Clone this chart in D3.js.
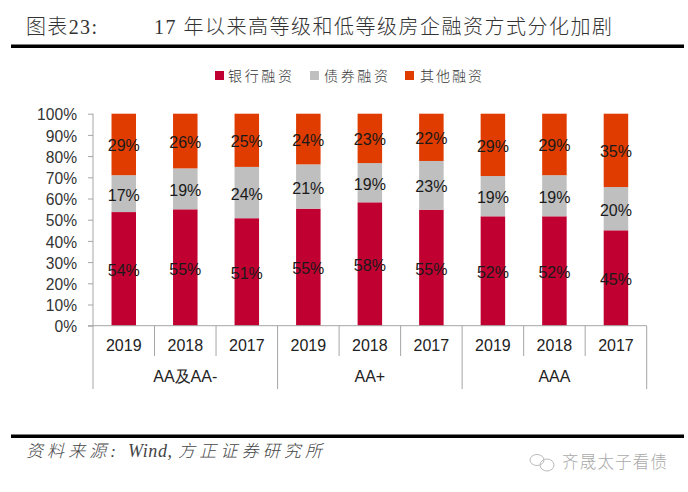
<!DOCTYPE html>
<html><head><meta charset="utf-8">
<script src="https://cdn.jsdelivr.net/npm/d3@7/dist/d3.min.js"></script>
<style>html,body{margin:0;padding:0;background:#fff}svg{display:block}</style>
</head><body><svg id="c" width="688" height="492"></svg>
<script>
const years = ["2019","2018","2017","2019","2018","2017","2019","2018","2017"];
const groups = ["AA及AA-","AA+","AAA"];
const seriesNames = ["银行融资","债券融资","其他融资"];
const bank = [53.6,54.9,50.7,55.2,58.2,54.7,51.6,51.6,45.0];
const bond = [17.4,19.3,24.2,20.9,18.5,23.0,19.0,19.4,20.4];
const other = [29.0,25.8,25.1,23.9,23.3,22.3,29.4,29.0,34.6];
const colors = ["#C00030","#BFBFBF","#E03C00"];
const yTicks = [0,10,20,30,40,50,60,70,80,90,100];

const svg = d3.select("#c");
const latin = "'Liberation Sans',Arial,sans-serif";
const mixed = "'Liberation Serif','Noto Sans CJK SC',serif";
const cjk = "'Noto Sans CJK SC',sans-serif";
const x = d3.scaleBand().domain(d3.range(9)).range([93,646.7]);
const y = d3.scaleLinear().domain([0,100]).range([325.7,113.7]);
const barW = 24.5;

function label(px,py,size,len,txt,opts={}){
  return svg.append("text").attr("x",px).attr("y",py).attr("font-family",opts.font||mixed)
    .attr("font-weight",opts.weight||300).attr("font-style",opts.style||"normal")
    .attr("font-size",size).attr("fill",opts.fill||"#333")
    .attr("textLength",len).text(txt);
}

// header / footer
label(26,34,20,71,"图表23:");
label(154,34,20,458,"17 年以来高等级和低等级房企融资方式分化加剧");
svg.append("rect").attr("x",11).attr("y",44.5).attr("width",673).attr("height",3.5).attr("fill","#000");
svg.append("rect").attr("x",11).attr("y",434.5).attr("width",673).attr("height",3.5).attr("fill","#000");
label(26,457,17,90,"资料来源:",{style:"italic",fill:"#444"});
label(128,457,18,44,"Wind,",{style:"italic",fill:"#444",weight:400});
label(178,457,17,144,"方正证券研究所",{style:"italic",fill:"#444"});
label(562,468,16.5,105,"齐晟太子看债",{font:cjk,fill:"#aaa"});
const wx = svg.append("g").attr("fill","none").attr("stroke","#bbb").attr("stroke-width",1);
wx.append("ellipse").attr("cx",537).attr("cy",460).attr("rx",7).attr("ry",5.5);
wx.append("ellipse").attr("cx",547).attr("cy",465).attr("rx",7).attr("ry",6);

// legend
const legendX = [215,310,405];
const legendTextX = [228,324,420];
const legendLen = [64,64,62];
seriesNames.forEach((n,i)=>{
  svg.append("rect").attr("x",legendX[i]).attr("y",71).attr("width",9).attr("height",9).attr("fill",colors[i]);
  label(legendTextX[i],81,14,legendLen[i],n,{font:cjk});
});

// stacked bars
const rows = years.map((_,i)=>({i,bank:bank[i],bond:bond[i],other:other[i]}));
const stack = d3.stack().keys(["bank","bond","other"])(rows);
stack.forEach((layer,k)=>{
  svg.append("g").selectAll("rect").data(layer).join("rect")
    .attr("x",d=>x(d.data.i)+x.bandwidth()/2-barW/2).attr("width",barW)
    .attr("y",d=>y(d[1])).attr("height",d=>y(d[0])-y(d[1])).attr("fill",colors[k]);
});
stack.forEach(layer=>{
  svg.append("g").selectAll("text").data(layer).join("text")
    .attr("x",d=>x(d.data.i)+x.bandwidth()/2).attr("y",d=>y((d[0]+d[1])/2)+7)
    .attr("text-anchor","middle").attr("font-family",latin).attr("font-size",16).attr("fill","#1a1a1a")
    .text(d=>Math.round(d[1]-d[0])+"%");
});

// y axis
const ya = svg.append("g").attr("transform","translate(93,0)")
  .call(d3.axisLeft(y).tickValues(yTicks).tickSize(5).tickPadding(11).tickFormat(d=>d+"%"));
ya.selectAll("path,line").attr("stroke","#a6a6a6");
ya.select("path").attr("d","M0,113.7V325.7");
ya.selectAll("text").attr("font-family",latin).attr("font-size",15.6).attr("fill","#333").attr("dy","0.4em");

// x axis with two-level categories
const xa = svg.append("g").attr("stroke","#a6a6a6").attr("fill","none");
xa.append("line").attr("x1",88).attr("x2",646.7).attr("y1",325.7).attr("y2",325.7);
d3.range(10).forEach(i=>{
  const px = i<9 ? x(i) : x(8)+x.bandwidth();
  xa.append("line").attr("x1",px).attr("x2",px).attr("y1",325.7).attr("y2",i%3===0?389:356);
});
svg.append("g").selectAll("text").data(years).join("text")
  .attr("x",(d,i)=>x(i)+x.bandwidth()/2).attr("y",351).attr("text-anchor","middle")
  .attr("font-family",latin).attr("font-size",16).attr("fill","#222").text(d=>d);
svg.append("g").selectAll("text").data(groups).join("text")
  .attr("x",(d,i)=>x(i*3+1)+x.bandwidth()/2).attr("y",382).attr("text-anchor","middle")
  .attr("font-family",latin).attr("font-size",16).attr("fill","#222").text(d=>d);
</script></body></html>
